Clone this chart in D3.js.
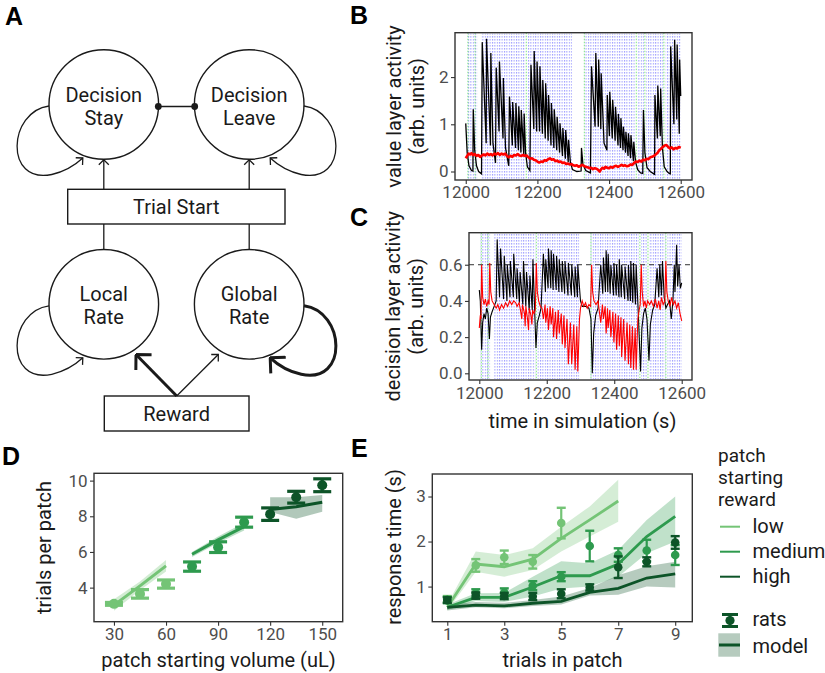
<!DOCTYPE html>
<html><head><meta charset="utf-8">
<script src="https://cdn.jsdelivr.net/npm/d3@7"></script>
<style>body{margin:0;background:#fff}svg{display:block}</style>
</head><body><svg id="fig" width="825" height="673"></svg>
<script>
// ---------------- DATA ----------------
// Panel A nodes
const nodeNames = [["Decision","Stay"],["Decision","Leave"],["Local","Rate"],["Global","Rate"]];
const boxNames = ["Trial Start","Reward"];

// Panel B/C common
const timeTicks = [12000,12200,12400,12600];
const trialRegions = [[12004,12032],[12044,12166],[12172,12296],[12330,12472],[12480,12497],[12503,12552],[12558,12600]];
const patchLines = [12006,12026,12169,12331,12476,12500,12553];

// Panel B: value layer (time, activity)
const valueBlack = [
[12000,1.02],[12004,0.4],[12009,0.12],[12016,0.02],[12020,0.01],
[12021,1.32],[12025,0.45],[12030,0.12],[12036,0.0],[12044,-0.05],
[12046,2.74],[12057,0.60],[12058,2.81],[12069,0.55],
[12070,2.51],[12076,0.6],[12083,0.18],
[12085,2.20],[12093,0.85],[12094,2.33],[12104,0.70],
[12105,1.98],[12111,0.5],[12120,0.12],
[12122,1.59],[12130,0.55],[12131,1.47],[12139,0.50],[12140,1.45],[12147,0.45],
[12148,1.38],[12154,0.40],[12155,1.30],[12162,0.35],
[12163,1.23],[12167,0.4],[12172,0.1],[12179,0.02],
[12182,2.26],[12190,0.90],[12191,2.55],[12198,0.85],[12199,2.33],[12206,0.85],
[12207,2.23],[12214,0.80],[12215,1.94],[12222,0.70],[12223,1.87],[12230,0.65],
[12231,1.62],[12238,0.55],[12239,1.45],[12246,0.50],[12247,1.32],[12254,0.45],
[12255,1.16],[12262,0.40],[12263,1.02],[12270,0.33],[12271,0.92],[12278,0.27],
[12279,0.88],[12286,0.20],
[12287,0.67],[12292,0.2],[12298,0.04],[12310,0.0],[12322,0.01],
[12323,0.50],[12327,0.15],[12335,0.02],[12348,-0.03],
[12351,2.23],[12361,0.95],[12363,2.51],[12370,0.95],[12371,2.37],[12377,0.90],
[12378,2.08],[12386,0.6],[12394,0.45],
[12395,1.62],[12401,0.75],[12402,1.69],[12409,0.70],[12410,1.52],[12417,0.65],
[12418,1.37],[12425,0.55],[12426,1.22],[12432,0.50],[12433,1.13],[12439,0.45],
[12440,0.95],[12446,0.40],[12447,0.84],[12453,0.33],[12454,0.81],[12460,0.28],
[12461,0.77],[12468,0.22],
[12469,0.63],[12474,0.2],[12480,0.04],[12488,-0.03],[12494,-0.04],
[12496,1.30],[12500,0.4],[12506,0.08],[12515,0.0],[12525,-0.05],[12527,-0.06],
[12528,1.62],[12535,0.70],[12536,1.82],[12543,0.75],
[12544,1.76],[12549,0.5],[12554,0.1],[12562,0.0],[12568,-0.04],[12571,-0.05],
[12572,2.65],[12581,1.0],[12583,2.79],[12589,1.1],[12590,2.69],[12596,0.8],
[12597,2.37],[12600,1.60]
];
const valueRed = [
[12000,0.28],[12004,0.33],[12008,0.38],[12012,0.36],[12016,0.39],[12020,0.35],[12025,0.37],[12030,0.33],
[12035,0.35],[12040,0.31],[12045,0.34],[12050,0.36],[12055,0.34],[12060,0.38],[12065,0.35],[12070,0.37],
[12075,0.34],[12080,0.38],[12085,0.36],[12090,0.39],[12095,0.35],[12100,0.38],[12105,0.36],[12110,0.38],
[12115,0.33],[12120,0.30],[12125,0.33],[12130,0.31],[12135,0.35],[12140,0.34],[12145,0.37],[12150,0.34],
[12155,0.33],[12160,0.35],[12165,0.33],[12170,0.34],[12175,0.30],[12180,0.27],[12185,0.28],[12190,0.25],
[12195,0.24],[12200,0.21],[12205,0.19],[12210,0.21],[12215,0.20],[12220,0.24],[12225,0.23],[12230,0.26],
[12235,0.28],[12240,0.25],[12245,0.26],[12250,0.22],[12255,0.23],[12260,0.20],[12265,0.21],[12270,0.18],
[12275,0.19],[12280,0.16],[12285,0.17],[12290,0.15],[12295,0.16],[12300,0.13],[12305,0.12],[12310,0.13],
[12315,0.10],[12320,0.12],[12325,0.14],[12330,0.12],[12335,0.10],[12340,0.09],[12345,0.07],[12350,0.08],
[12355,0.05],[12360,0.07],[12365,0.06],[12370,0.03],[12374,0.0],[12378,0.05],[12382,0.08],[12386,0.06],
[12390,0.10],[12395,0.08],[12400,0.07],[12405,0.10],[12410,0.08],[12415,0.11],[12420,0.12],[12425,0.10],
[12430,0.12],[12435,0.14],[12440,0.12],[12445,0.13],[12450,0.11],[12455,0.12],[12460,0.15],[12465,0.14],
[12470,0.18],[12475,0.21],[12480,0.20],[12485,0.23],[12490,0.21],[12495,0.25],[12500,0.24],[12505,0.27],
[12510,0.26],[12515,0.30],[12520,0.31],[12525,0.33],[12530,0.36],[12535,0.39],[12540,0.45],[12545,0.48],
[12550,0.52],[12555,0.55],[12560,0.56],[12565,0.52],[12570,0.49],[12575,0.51],[12580,0.47],[12585,0.50],
[12590,0.49],[12595,0.52],[12600,0.50]
];

// Panel C: decision layer
const decisionThreshold = 0.6;
const decisionBlack = [
[12000,0.46],[12003,0.40],[12007,0.13],[12010,0.28],[12014,0.33],[12018,0.30],[12022,0.36],[12026,0.33],
[12030,0.19],[12033,0.31],[12038,0.34],[12044,0.37],[12050,0.40],
[12053,0.74],[12060,0.42],[12063,0.69],[12072,0.41],[12074,0.65],[12082,0.40],[12083,0.60],[12091,0.42],
[12092,0.62],[12101,0.42],[12102,0.66],[12111,0.41],[12112,0.58],[12119,0.39],[12121,0.56],[12129,0.38],
[12131,0.62],[12138,0.37],[12140,0.56],[12148,0.35],[12150,0.54],[12157,0.35],[12159,0.63],[12165,0.30],
[12168,0.14],[12172,0.28],[12178,0.32],[12183,0.36],
[12190,0.66],[12196,0.45],[12197,0.63],[12204,0.47],[12205,0.69],[12212,0.47],[12213,0.68],[12219,0.46],
[12220,0.66],[12228,0.46],[12229,0.65],[12236,0.45],[12237,0.63],[12245,0.45],[12246,0.62],[12253,0.44],
[12254,0.62],[12263,0.43],[12264,0.61],[12273,0.43],[12274,0.60],[12283,0.42],[12284,0.59],[12291,0.42],
[12292,0.60],[12300,0.40],[12305,0.37],[12315,0.37],[12325,0.36],[12331,0.30],[12335,0.0],[12339,0.22],
[12345,0.32],[12352,0.36],
[12360,0.60],[12366,0.44],[12368,0.64],[12374,0.45],[12376,0.68],[12381,0.45],[12382,0.66],[12388,0.44],
[12390,0.60],[12398,0.43],[12399,0.61],[12406,0.43],[12407,0.60],[12414,0.42],[12415,0.63],[12421,0.42],
[12422,0.60],[12431,0.41],[12432,0.59],[12441,0.40],[12442,0.60],[12448,0.40],[12449,0.62],[12455,0.39],
[12457,0.61],[12463,0.38],[12465,0.60],[12472,0.30],[12478,0.01],[12482,0.25],[12487,0.33],[12492,0.36],
[12497,0.30],[12503,0.07],[12507,0.27],[12514,0.35],[12520,0.38],
[12527,0.58],[12532,0.42],[12535,0.60],[12540,0.43],[12543,0.62],[12548,0.42],[12553,0.36],[12558,0.38],
[12564,0.40],[12569,0.30],[12574,0.40],[12578,0.60],[12580,0.45],[12585,0.71],[12588,0.48],[12592,0.60],
[12596,0.47],[12600,0.50]
];
const decisionRed = [
[12000,0.25],[12003,0.32],[12005,0.30],[12007,0.60],[12010,0.42],[12014,0.38],[12018,0.41],[12022,0.37],
[12026,0.40],[12029,0.38],[12031,0.61],[12034,0.45],[12038,0.40],[12044,0.38],[12050,0.36],[12055,0.38],
[12060,0.35],[12066,0.38],[12072,0.36],[12078,0.39],[12084,0.37],[12090,0.40],[12096,0.38],[12102,0.40],
[12108,0.39],[12112,0.37],[12118,0.39],[12122,0.35],[12126,0.30],[12128,0.38],[12134,0.33],[12136,0.26],
[12138,0.37],[12143,0.30],[12146,0.24],[12148,0.36],[12153,0.32],[12156,0.27],[12158,0.35],[12162,0.33],
[12166,0.35],[12169,0.61],[12172,0.45],[12176,0.40],[12181,0.37],[12186,0.36],
[12190,0.30],[12195,0.38],[12197,0.28],[12202,0.36],[12205,0.24],[12210,0.37],[12213,0.27],[12218,0.36],
[12220,0.20],[12226,0.34],[12229,0.19],[12234,0.35],[12237,0.22],[12243,0.33],[12246,0.16],[12251,0.32],
[12254,0.14],[12260,0.30],[12264,0.05],[12270,0.28],[12274,0.05],[12280,0.27],[12284,0.02],[12289,0.26],
[12292,0.01],[12297,0.30],[12300,0.36],[12305,0.40],[12310,0.37],[12315,0.39],[12320,0.36],[12325,0.38],
[12330,0.37],[12333,0.60],[12336,0.45],[12340,0.40],[12346,0.38],[12352,0.40],
[12360,0.28],[12365,0.38],[12368,0.30],[12373,0.37],[12376,0.22],[12380,0.36],[12382,0.25],[12387,0.35],
[12390,0.20],[12396,0.34],[12399,0.17],[12404,0.33],[12407,0.13],[12412,0.32],[12415,0.15],[12420,0.31],
[12422,0.09],[12428,0.30],[12432,0.07],[12438,0.28],[12442,0.05],[12446,0.27],[12449,0.03],[12454,0.26],
[12457,0.02],[12462,0.25],[12465,0.02],[12470,0.30],[12474,0.35],[12477,0.38],[12480,0.60],[12483,0.45],
[12487,0.37],[12491,0.40],[12495,0.36],[12499,0.40],[12505,0.38],[12510,0.40],[12516,0.37],[12522,0.41],
[12527,0.36],[12532,0.40],[12536,0.35],[12540,0.42],[12545,0.38],[12550,0.40],[12553,0.62],[12556,0.45],
[12560,0.40],[12565,0.37],[12570,0.42],[12575,0.38],[12580,0.40],[12585,0.36],[12590,0.39],[12595,0.33],
[12600,0.29]
];

// Panel D
const rewardLevels = ["low","medium","high"];
const dVolume = [30,45,60,75,90,105,120,135,150];
const dLevel = [0,0,0,1,1,1,2,2,2];
const dRatsMean = [3.09,3.65,4.20,5.18,6.27,7.67,8.12,9.07,9.74];
const dRatsSE = [0.08,0.24,0.23,0.26,0.30,0.28,0.35,0.33,0.36];
const dModelMean = [3.02,4.10,5.22,5.87,6.68,7.42,8.38,8.54,8.79];
const dModelLo = [2.70,3.85,4.90,5.72,6.50,7.20,8.24,7.86,8.26];
const dModelHi = [3.35,4.35,5.55,6.00,6.86,7.64,9.07,9.07,9.20];
const dXTicks = [30,60,90,120,150];
const dYTicks = [4,6,8,10];

// Panel E
const eTrials = [1,2,3,4,5,6,7,8,9];
const eModelMean = [
  [0.54,1.50,1.44,1.61,2.07,2.48,2.90],
  [0.54,0.76,0.76,0.99,1.24,1.24,1.50,2.11,2.56],
  [0.54,0.59,0.57,0.63,0.67,0.87,0.96,1.19,1.28]];
const eModelLo = [
  [0.47,1.33,1.22,1.37,1.78,2.11,2.44],
  [0.48,0.68,0.66,0.78,0.96,1.00,1.22,1.74,2.00],
  [0.47,0.54,0.52,0.57,0.60,0.80,0.82,1.00,0.98]];
const eModelHi = [
  [0.60,1.78,1.70,1.85,2.33,2.78,3.37],
  [0.60,0.85,0.86,1.22,1.56,1.52,1.81,2.48,3.00],
  [0.60,0.66,0.64,0.70,0.78,0.97,1.25,1.45,1.55]];
const eRatsMean = [
  [0.72,1.47,1.65,1.55,2.41],
  [0.70,0.85,0.87,1.02,1.22,1.90,1.70,1.80,1.70],
  [0.70,0.80,0.79,0.78,0.84,0.98,1.43,1.55,1.98]];
const eRatsSE = [
  [0.07,0.14,0.15,0.15,0.34],
  [0.07,0.09,0.09,0.10,0.10,0.34,0.15,0.24,0.22],
  [0.06,0.07,0.07,0.08,0.10,0.07,0.24,0.10,0.14]];
const eXTicks = [1,3,5,7,9];
const eYTicks = [1,2,3];
const legendTitle = ["patch","starting","reward"];
const legendKinds = ["rats","model"];

// ---------------- STYLE ----------------
const FONT = "Roboto, 'Liberation Sans', sans-serif";
const levelColor = ["#74c476","#2e9a4e","#0d5428"];
const INK = "#1a1a1a";

const svg = d3.select("#fig");
svg.append("rect").attr("width",825).attr("height",673).attr("fill","#fff");
const defs = svg.append("defs");
defs.append("pattern").attr("id","bluedots").attr("patternUnits","userSpaceOnUse")
  .attr("width",2.4).attr("height",3)
  .append("rect").attr("width",1).attr("height",1.6).attr("fill","#9c9cff");

function mk(id, size, sw){
  const m = defs.append("marker").attr("id",id).attr("markerUnits","userSpaceOnUse")
    .attr("viewBox",`0 0 ${size} ${size}`).attr("markerWidth",size).attr("markerHeight",size)
    .attr("refX",size-1).attr("refY",size/2).attr("orient","auto");
  const h = size/2 - 1;
  m.append("path").attr("d",`M${size-1-h},${size/2-h} L${size-1},${size/2} L${size-1-h},${size/2+h}`)
    .attr("fill","none").attr("stroke",INK).attr("stroke-width",sw).attr("stroke-linejoin","miter");
}
mk("arrThin",12,1.3);
mk("arrThick",24,3);

// ---------------- PANEL LETTERS ----------------
const letters = [["A",5,25],["B",350,24],["C",350,226],["D",2,465],["E",351,457]];
svg.selectAll("text.lab").data(letters).join("text").attr("class","lab")
  .attr("x",d=>d[1]).attr("y",d=>d[2]).text(d=>d[0])
  .attr("font-family","'Liberation Sans', Arial, sans-serif").attr("font-weight","bold")
  .attr("font-size",25).attr("fill","#000");

// ---------------- PANEL A ----------------
const A = svg.append("g");
const R = 54.8;
const cx = [103.8,249.2], cy = [104.5,304.3];
const nodePos = [[cx[0],cy[0]],[cx[1],cy[0]],[cx[0],cy[1]],[cx[1],cy[1]]];
A.selectAll("circle.node").data(nodePos).join("circle").attr("class","node")
  .attr("cx",d=>d[0]).attr("cy",d=>d[1]).attr("r",R)
  .attr("fill","none").attr("stroke",INK).attr("stroke-width",1.4);
nodeNames.forEach((nm,i)=>{
  nm.forEach((s,j)=>{
    A.append("text").attr("x",nodePos[i][0]).attr("y",nodePos[i][1]-3+j*23)
      .attr("text-anchor","middle").attr("font-family",FONT).attr("font-size",20)
      .attr("fill",INK).text(s);
  });
});
// boxes
const boxes = [[67.7,189.3,285,224],[104.3,396,249,431]];
boxes.forEach((b,i)=>{
  A.append("rect").attr("x",b[0]).attr("y",b[1]).attr("width",b[2]-b[0]).attr("height",b[3]-b[1])
    .attr("fill","none").attr("stroke",INK).attr("stroke-width",1.4);
  A.append("text").attr("x",(b[0]+b[2])/2).attr("y",(b[1]+b[3])/2+7)
    .attr("text-anchor","middle").attr("font-family",FONT).attr("font-size",20).attr("fill",INK).text(boxNames[i]);
});
// connecting line stay-leave
A.append("line").attr("x1",cx[0]+R).attr("x2",cx[1]-R).attr("y1",106.5).attr("y2",106.5)
  .attr("stroke",INK).attr("stroke-width",1.4);
[cx[0]+R-0.3,cx[1]-R+0.3].forEach(x=>A.append("circle").attr("cx",x).attr("cy",106.5).attr("r",3.4).attr("fill",INK));
// trial start -> decisions
[cx[0],cx[1]].forEach(x=>{
  A.append("line").attr("x1",x).attr("x2",x).attr("y1",189.3).attr("y2",cy[0]+R+0.5)
    .attr("stroke",INK).attr("stroke-width",1.3).attr("marker-end","url(#arrThin)");
  A.append("line").attr("x1",x).attr("x2",x).attr("y1",cy[1]-R).attr("y2",224)
    .attr("stroke",INK).attr("stroke-width",1.3);
});
// reward arrows
A.append("line").attr("x1",176.7).attr("y1",396).attr("x2",136).attr("y2",354.5)
  .attr("stroke",INK).attr("stroke-width",3).attr("marker-end","url(#arrThick)");
A.append("line").attr("x1",176.7).attr("y1",396).attr("x2",218.3).attr("y2",354.5)
  .attr("stroke",INK).attr("stroke-width",1.3).attr("marker-end","url(#arrThin)");
// self loops
function loopPath(side, yc){
  const s = side; // -1 left, +1 right
  const X = (dx)=> (s<0? cx[0]+dx : cx[1]-dx);
  const base = yc;
  return `M${X(-R)},${base+1.5} C${X(-R-41)},${base+7} ${X(-R-45)},${base+80} ${X(-52)},${base+70} C${X(-39)},${base+67} ${X(-28)},${base+60} ${X(-21)},${base+53.5}`;
}
A.append("path").attr("d",loopPath(-1,cy[0])).attr("fill","none").attr("stroke",INK).attr("stroke-width",1.3).attr("marker-end","url(#arrThin)");
A.append("path").attr("d",loopPath(1,cy[0])).attr("fill","none").attr("stroke",INK).attr("stroke-width",1.3).attr("marker-end","url(#arrThin)");
A.append("path").attr("d",loopPath(-1,cy[1])).attr("fill","none").attr("stroke",INK).attr("stroke-width",1.3).attr("marker-end","url(#arrThin)");
A.append("path").attr("d",loopPath(1,cy[1])).attr("fill","none").attr("stroke",INK).attr("stroke-width",3).attr("marker-end","url(#arrThick)");

// ---------------- helpers ----------------
function panel(box, xd, yd){
  return {box, x:d3.scaleLinear().domain(xd).range([box.l,box.r]), y:d3.scaleLinear().domain(yd).range([box.b,box.t])};
}
function drawAxes(p, xt, yt, xf, yf, pad){
  const gx = svg.append("g").attr("transform",`translate(0,${p.box.b})`)
    .call(d3.axisBottom(p.x).tickValues(xt).tickSize(4).tickPadding(pad).tickFormat(xf));
  const gy = svg.append("g").attr("transform",`translate(${p.box.l},0)`)
    .call(d3.axisLeft(p.y).tickValues(yt).tickSize(4).tickPadding(2.5).tickFormat(yf));
  [gx,gy].forEach(g=>{
    g.select(".domain").remove();
    g.selectAll("line").attr("stroke","#333").attr("stroke-width",1.1);
    g.selectAll("text").attr("font-family",FONT).attr("font-size",17).attr("fill","#4d4d4d");
  });
}
function frame(p){
  const b=p.box;
  svg.append("rect").attr("x",b.l).attr("y",b.t).attr("width",b.r-b.l).attr("height",b.b-b.t)
    .attr("fill","none").attr("stroke","#333").attr("stroke-width",1.4);
}
function title(x,y,txt,rot){
  const t = svg.append("text").attr("font-family",FONT).attr("font-size",20).attr("fill",INK)
    .attr("text-anchor","middle").text(txt);
  if(rot) t.attr("transform",`translate(${x},${y}) rotate(-90)`);
  else t.attr("x",x).attr("y",y);
}
function timeBackground(p, clipId){
  const b = p.box;
  defs.append("clipPath").attr("id",clipId).append("rect")
    .attr("x",b.l).attr("y",b.t).attr("width",b.r-b.l).attr("height",b.b-b.t);
  const g = svg.append("g").attr("clip-path",`url(#${clipId})`);
  g.selectAll("rect.tr").data(trialRegions).join("rect").attr("class","tr")
    .attr("x",d=>p.x(d[0])).attr("width",d=>p.x(d[1])-p.x(d[0]))
    .attr("y",b.t+1).attr("height",b.b-b.t-2).attr("fill","url(#bluedots)");
  g.selectAll("line.pl").data(patchLines).join("line").attr("class","pl")
    .attr("x1",d=>p.x(d)).attr("x2",d=>p.x(d)).attr("y1",b.t).attr("y2",b.b)
    .attr("stroke","#80e880").attr("stroke-width",1).attr("stroke-dasharray","1.5,1.5");
  return g;
}

// ---------------- PANEL B ----------------
const pB = panel({l:455,r:692,t:32.7,b:180}, [11970,12631.5], [-0.18,2.94]);
const gB = timeBackground(pB,"clipB");
const lineB = d3.line().x(d=>pB.x(d[0])).y(d=>pB.y(d[1]));
gB.append("path").attr("d",lineB(valueBlack)).attr("fill","none").attr("stroke","#000").attr("stroke-width",1.3);
gB.append("path").attr("d",lineB(valueRed)).attr("fill","none").attr("stroke","#ff0000").attr("stroke-width",2.6).attr("stroke-linejoin","round");
drawAxes(pB, timeTicks, [0,1,2], d3.format("d"), d3.format("d"), 2);
frame(pB);
title(401,106.4,"value layer activity",true);
title(424,106.4,"(arb. units)",true);

// ---------------- PANEL C ----------------
const pC = panel({l:469,r:692,t:232.7,b:380}, [11969.5,12630.5], [-0.037,0.777]);
const gC = timeBackground(pC,"clipC");
const lineC = d3.line().x(d=>pC.x(d[0])).y(d=>pC.y(d[1]));
gC.append("line").attr("x1",pC.box.l).attr("x2",pC.box.r).attr("y1",pC.y(decisionThreshold)).attr("y2",pC.y(decisionThreshold))
  .attr("stroke","#333").attr("stroke-width",1).attr("stroke-dasharray","5,4");
gC.append("path").attr("d",lineC(decisionBlack)).attr("fill","none").attr("stroke","#000").attr("stroke-width",1.1);
gC.append("path").attr("d",lineC(decisionRed)).attr("fill","none").attr("stroke","#ff0000").attr("stroke-width",1.1);
drawAxes(pC, timeTicks, [0,0.2,0.4,0.6], d3.format("d"), d3.format(".1f"), 3);
frame(pC);
title(400,306.3,"decision layer activity",true);
title(423,306.3,"(arb. units)",true);
title(582.5,428,"time in simulation (s)",false);

// ---------------- PANEL D ----------------
const pD = panel({l:94,r:342.7,t:473.3,b:621.7}, [18.5,161.8], [2.09,10.41]);
const gD = svg.append("g");
rewardLevels.forEach((lv,li)=>{
  const idx = dVolume.map((v,i)=>i).filter(i=>dLevel[i]===li);
  const pts = idx.map(i=>({x:dVolume[i],m:dModelMean[i],lo:dModelLo[i],hi:dModelHi[i]}));
  gD.append("path").attr("d",d3.area().x(d=>pD.x(d.x)).y0(d=>pD.y(d.lo)).y1(d=>pD.y(d.hi))(pts))
    .attr("fill",levelColor[li]).attr("fill-opacity",0.32);
});
rewardLevels.forEach((lv,li)=>{
  const idx = dVolume.map((v,i)=>i).filter(i=>dLevel[i]===li);
  const pts = idx.map(i=>({x:dVolume[i],m:dModelMean[i]}));
  gD.append("path").attr("d",d3.line().x(d=>pD.x(d.x)).y(d=>pD.y(d.m))(pts))
    .attr("fill","none").attr("stroke",levelColor[li]).attr("stroke-width",3);
});
dVolume.forEach((v,i)=>{
  const c = levelColor[dLevel[i]], x = pD.x(v);
  const y0 = pD.y(dRatsMean[i]-dRatsSE[i]), y1 = pD.y(dRatsMean[i]+dRatsSE[i]);
  gD.append("line").attr("x1",x).attr("x2",x).attr("y1",y0).attr("y2",y1).attr("stroke",c).attr("stroke-width",3);
  [y0,y1].forEach(y=>gD.append("line").attr("x1",x-9).attr("x2",x+9).attr("y1",y).attr("y2",y).attr("stroke",c).attr("stroke-width",3.2));
  gD.append("circle").attr("cx",x).attr("cy",pD.y(dRatsMean[i])).attr("r",5).attr("fill",c);
});
drawAxes(pD, dXTicks, dYTicks, d3.format("d"), d3.format("d"), 2.5);
frame(pD);
title(51,547.5,"trials per patch",true);
title(218.5,667,"patch starting volume (uL)",false);

// ---------------- PANEL E ----------------
const pE = panel({l:432.3,r:692.3,t:474,b:621.7}, [0.474,9.6], [0.22,3.50]);
const gE = svg.append("g");
rewardLevels.forEach((lv,li)=>{
  const pts = eModelMean[li].map((m,i)=>({x:eTrials[i],lo:eModelLo[li][i],hi:eModelHi[li][i]}));
  gE.append("path").attr("d",d3.area().x(d=>pE.x(d.x)).y0(d=>pE.y(d.lo)).y1(d=>pE.y(d.hi))(pts))
    .attr("fill",levelColor[li]).attr("fill-opacity",0.3);
});
rewardLevels.forEach((lv,li)=>{
  const pts = eModelMean[li].map((m,i)=>({x:eTrials[i],m}));
  gE.append("path").attr("d",d3.line().x(d=>pE.x(d.x)).y(d=>pE.y(d.m))(pts))
    .attr("fill","none").attr("stroke",levelColor[li]).attr("stroke-width",2.8);
});
rewardLevels.forEach((lv,li)=>{
  eRatsMean[li].forEach((m,i)=>{
    const c = levelColor[li], x = pE.x(eTrials[i]);
    const y0 = pE.y(m-eRatsSE[li][i]), y1 = pE.y(m+eRatsSE[li][i]);
    gE.append("line").attr("x1",x).attr("x2",x).attr("y1",y0).attr("y2",y1).attr("stroke",c).attr("stroke-width",2.2);
    [y0,y1].forEach(y=>gE.append("line").attr("x1",x-4.5).attr("x2",x+4.5).attr("y1",y).attr("y2",y).attr("stroke",c).attr("stroke-width",2.4));
    gE.append("circle").attr("cx",x).attr("cy",pE.y(m)).attr("r",4.3).attr("fill",c);
  });
});
drawAxes(pE, eXTicks, eYTicks, d3.format("d"), d3.format("d"), 2.5);
frame(pE);
title(401,547,"response time (s)",true);
title(562.5,667,"trials in patch",false);

// legend
const L = svg.append("g").attr("font-family",FONT).attr("font-size",20).attr("fill",INK);
legendTitle.forEach((s,i)=>L.append("text").attr("x",718).attr("y",461.5+i*22).attr("font-size",19).text(s));
rewardLevels.forEach((lv,i)=>{
  const y = 526.7 + i*25;
  L.append("line").attr("x1",720).attr("x2",740).attr("y1",y).attr("y2",y).attr("stroke",levelColor[i]).attr("stroke-width",2);
  L.append("text").attr("x",752.5).attr("y",y+6.5).text(lv);
});
// rats glyph
const dk = levelColor[2];
L.append("line").attr("x1",730).attr("x2",730).attr("y1",614.5).attr("y2",626.5).attr("stroke",dk).attr("stroke-width",2.4);
[614.5,626.5].forEach(y=>L.append("line").attr("x1",722).attr("x2",738).attr("y1",y).attr("y2",y).attr("stroke",dk).attr("stroke-width",3));
L.append("circle").attr("cx",730).attr("cy",620.5).attr("r",4.6).attr("fill",dk);
// model glyph
L.append("rect").attr("x",718.3).attr("y",633.3).attr("width",21.7).attr("height",23.4).attr("fill",dk).attr("fill-opacity",0.3);
L.append("line").attr("x1",719).attr("x2",740).attr("y1",645).attr("y2",645).attr("stroke",dk).attr("stroke-width",3);
legendKinds.forEach((s,i)=>L.append("text").attr("x",752.5).attr("y",626+i*26.7).text(s));
</script></body></html>
